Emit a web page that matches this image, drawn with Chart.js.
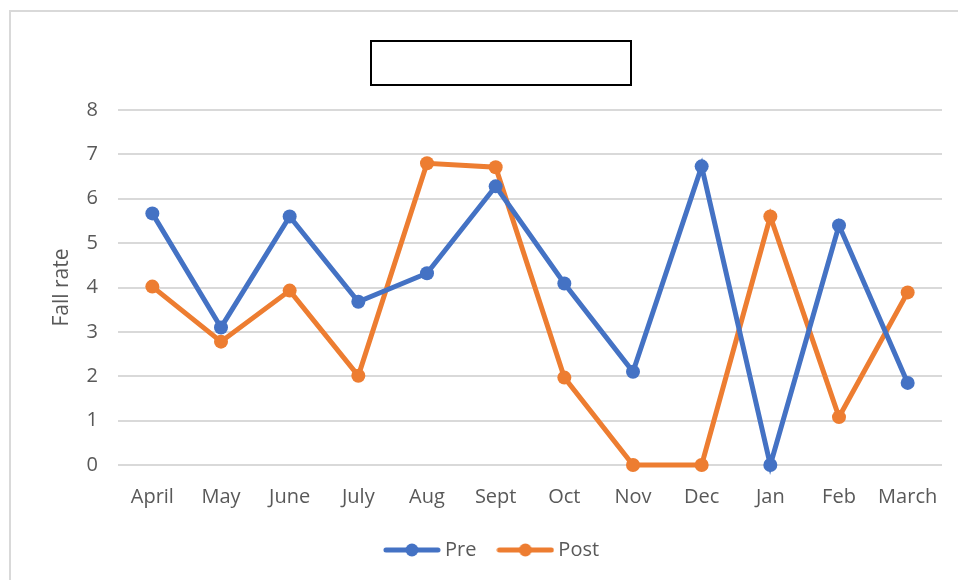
<!DOCTYPE html>
<html>
<head>
<meta charset="utf-8">
<script src="https://cdn.jsdelivr.net/npm/chart.js@4/dist/chart.umd.min.js"></script>
<style>
  html, body { margin: 0; padding: 0; background: #fff; }
  #wrap { position: relative; width: 958px; height: 580px; overflow: hidden; }
  #frame { position: absolute; left: 9px; top: 10px; width: 960px; height: 580px; border: 2px solid #d9d9d9; box-sizing: border-box; }
  #titlebox { position: absolute; left: 370px; top: 40px; width: 262px; height: 46px; border: 2px solid #000; box-sizing: border-box; background: #fff; }
  canvas { position: absolute; left: 0; top: 0; }
</style>
</head>
<body>
<div id="wrap">
  <div id="frame"></div>
  <canvas id="c" width="958" height="580"></canvas>
  <div id="titlebox"></div>
</div>
<script>
const months = ["April", "May", "June", "July", "Aug", "Sept", "Oct", "Nov", "Dec", "Jan", "Feb", "March"];
const preValues = [5.67, 3.1, 5.6, 3.68, 4.32, 6.28, 4.09, 2.1, 6.73, 0, 5.4, 1.85];
const postValues = [4.02, 2.78, 3.93, 2.01, 6.8, 6.71, 1.97, 0, 0, 5.6, 1.08, 3.89];
const yTicks = [0, 1, 2, 3, 4, 5, 6, 7, 8];
const seriesNames = ["Pre", "Post"];
const seriesColors = ["#4472C4", "#ED7D31"];

const FONT = "'Open Sans', 'Liberation Sans', sans-serif";

function legendIcon(color) {
  const c = document.createElement('canvas');
  c.width = 58; c.height = 14;
  const g = c.getContext('2d');
  g.strokeStyle = color; g.lineWidth = 5; g.lineCap = 'round';
  g.beginPath(); g.moveTo(3, 7); g.lineTo(55, 7); g.stroke();
  g.fillStyle = color;
  g.beginPath(); g.arc(29, 7, 6.5, 0, Math.PI * 2); g.fill();
  return c;
}
const icons = seriesColors.map(legendIcon);

new Chart(document.getElementById('c'), {
  type: 'line',
  data: {
    labels: months,
    datasets: [
      { label: seriesNames[0], data: preValues, borderColor: seriesColors[0], backgroundColor: seriesColors[0],
        borderWidth: 5, pointRadius: 7, pointHoverRadius: 7, pointBorderWidth: 0, tension: 0, clip: false },
      { label: seriesNames[1], data: postValues, borderColor: seriesColors[1], backgroundColor: seriesColors[1],
        borderWidth: 5, pointRadius: 7, pointHoverRadius: 7, pointBorderWidth: 0, tension: 0, clip: false }
    ]
  },
  options: {
    responsive: false,
    animation: false,
    layout: { padding: { top: 110, right: 16, left: 46, bottom: 10 } },
    scales: {
      x: {
        offset: true,
        grid: { display: false, drawTicks: false },
        border: { display: false },
        ticks: { color: '#595959', font: { family: FONT, size: 20 }, padding: 20, maxRotation: 0, autoSkip: false },
        afterFit: s => { s.height = 49; }
      },
      y: {
        min: 0, max: 8,
        afterBuildTicks: s => { s.ticks = yTicks.map(v => ({ value: v })); },
        grid: { color: '#d9d9d9', lineWidth: 2, drawTicks: false },
        border: { display: false },
        ticks: { color: '#595959', font: { family: FONT, size: 20 }, padding: 20 },
        title: { display: true, text: 'Fall rate', color: '#595959', font: { family: FONT, size: 21 }, padding: { top: 3, bottom: 0 } },
        afterFit: s => { s.width = 72; }
      }
    },
    plugins: {
      title: { display: false },
      tooltip: { enabled: false },
      legend: {
        position: 'bottom',
        labels: {
          usePointStyle: true,
          pointStyleWidth: 46,
          color: '#595959',
          font: { family: FONT, size: 20 },
          padding: 26,
          generateLabels: chart => chart.data.datasets.map((d, i) => ({
            text: d.label, pointStyle: icons[i], fillStyle: d.borderColor, strokeStyle: d.borderColor,
            lineWidth: 0, hidden: false, datasetIndex: i, fontColor: '#595959'
          }))
        }
      }
    }
  }
});
</script>
</body>
</html>
